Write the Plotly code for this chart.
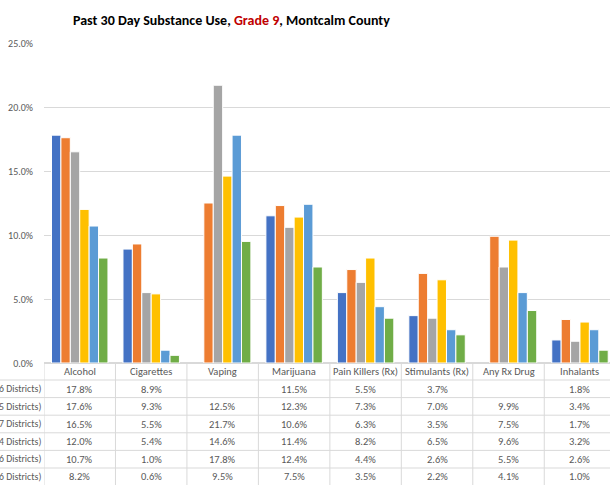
import plotly.graph_objects as go

categories = ["Alcohol", "Cigarettes", "Vaping", "Marijuana", "Pain Killers (Rx)",
              "Stimulants (Rx)", "Any Rx Drug", "Inhalants"]
row_labels = ["6 Districts)", "5 Districts)", "7 Districts)",
              "4 Districts)", "6 Districts)", "6 Districts)"]
s1 = [17.8, 8.9, None, 11.5, 5.5, 3.7, None, 1.8]
s2 = [17.6, 9.3, 12.5, 12.3, 7.3, 7.0, 9.9, 3.4]
s3 = [16.5, 5.5, 21.7, 10.6, 6.3, 3.5, 7.5, 1.7]
s4 = [12.0, 5.4, 14.6, 11.4, 8.2, 6.5, 9.6, 3.2]
s5 = [10.7, 1.0, 17.8, 12.4, 4.4, 2.6, 5.5, 2.6]
s6 = [8.2, 0.6, 9.5, 7.5, 3.5, 2.2, 4.1, 1.0]
series_values = [s1, s2, s3, s4, s5, s6]
y_ticks = [0, 5, 10, 15, 20, 25]

colors = ["#4472C4", "#ED7D31", "#A5A5A5", "#FFC000", "#5B9BD5", "#70AD47"]
FONT = "Carlito, Calibri, Lato, sans-serif"
TXT = "#595959"
GRID = "#D9D9D9"

# pixel geometry
W, H = 610, 485
L, T, B = 44, 43, 363
plot_h = B - T
plot_w = W - L

def py(p):
    return (B - p) / plot_h

def px(p):
    return (p - L) / plot_w

fig = go.Figure()
x_idx = list(range(len(categories)))
for name, vals, c in zip(row_labels, series_values, colors):
    fig.add_trace(go.Bar(x=x_idx, y=vals, name=name,
                         marker=dict(color=c, line=dict(color="white", width=1)),
                         hoverinfo="y"))

shapes = []
annotations = []

# table horizontal lines
row_lines = [380, 397.6, 415.2, 432.8, 450.4, 468]
for yl in row_lines:
    shapes.append(dict(type="line", xref="paper", yref="paper", x0=px(0), x1=px(W),
                       y0=py(yl), y1=py(yl), line=dict(color=GRID, width=1)))
# vertical lines
for k in range(len(categories) + 1):
    xv = -0.5 + k
    shapes.append(dict(type="line", xref="x", yref="paper", x0=xv, x1=xv,
                       y0=py(363), y1=py(H + 2), line=dict(color=GRID, width=1)))

FS = 10.5
# header
for i, c in enumerate(categories):
    annotations.append(dict(x=i, y=py(371.5), xref="x", yref="paper", text=c, showarrow=False,
                            font=dict(family=FONT, size=FS, color=TXT), xanchor="center", yanchor="middle"))
row_centers = [389, 406.5, 424, 441.5, 459, 476.5]
for r, (name, vals) in enumerate(zip(row_labels, series_values)):
    annotations.append(dict(x=px(43), y=py(row_centers[r]), xref="paper", yref="paper", text=name,
                            showarrow=False, font=dict(family=FONT, size=9.8, color=TXT),
                            xanchor="right", yanchor="middle"))
    for i, v in enumerate(vals):
        if v is None:
            continue
        annotations.append(dict(x=i, y=py(row_centers[r]), xref="x", yref="paper", text=f"{v:.1f}%",
                                showarrow=False, font=dict(family=FONT, size=FS, color=TXT),
                                xanchor="center", yanchor="middle"))

# title
annotations.append(dict(x=px(231), y=py(20), xref="paper", yref="paper",
                        text="<b>Past 30 Day Substance Use, <span style='color:#C00000'>Grade 9</span>, Montcalm County</b>",
                        showarrow=False, font=dict(family=FONT, size=14, color="#000000"),
                        xanchor="center", yanchor="middle"))

fig.update_layout(
    width=W, height=H,
    margin=dict(l=L, r=0, t=T, b=H - B, pad=0),
    paper_bgcolor="white", plot_bgcolor="white",
    barmode="group", bargap=0.21, bargroupgap=0,
    showlegend=False,
    shapes=shapes, annotations=annotations,
    font=dict(family=FONT, color=TXT),
    xaxis=dict(range=[-0.5, 7.42], showticklabels=False, showgrid=False, zeroline=False,
               showline=False, ticks=""),
    yaxis=dict(range=[0, 25], tickvals=y_ticks, ticktext=[f"{t:.1f}%" for t in y_ticks],
               showgrid=True, gridcolor=GRID, gridwidth=1, zeroline=True, zerolinecolor=GRID,
               ticks="outside", ticklen=8, tickcolor="rgba(0,0,0,0)",
               tickfont=dict(family=FONT, size=10, color=TXT), showline=False),
)

fig.write_html("out.html", config={"displayModeBar": False},
               post_script="document.body.style.margin='0';document.body.style.overflow='hidden';")
